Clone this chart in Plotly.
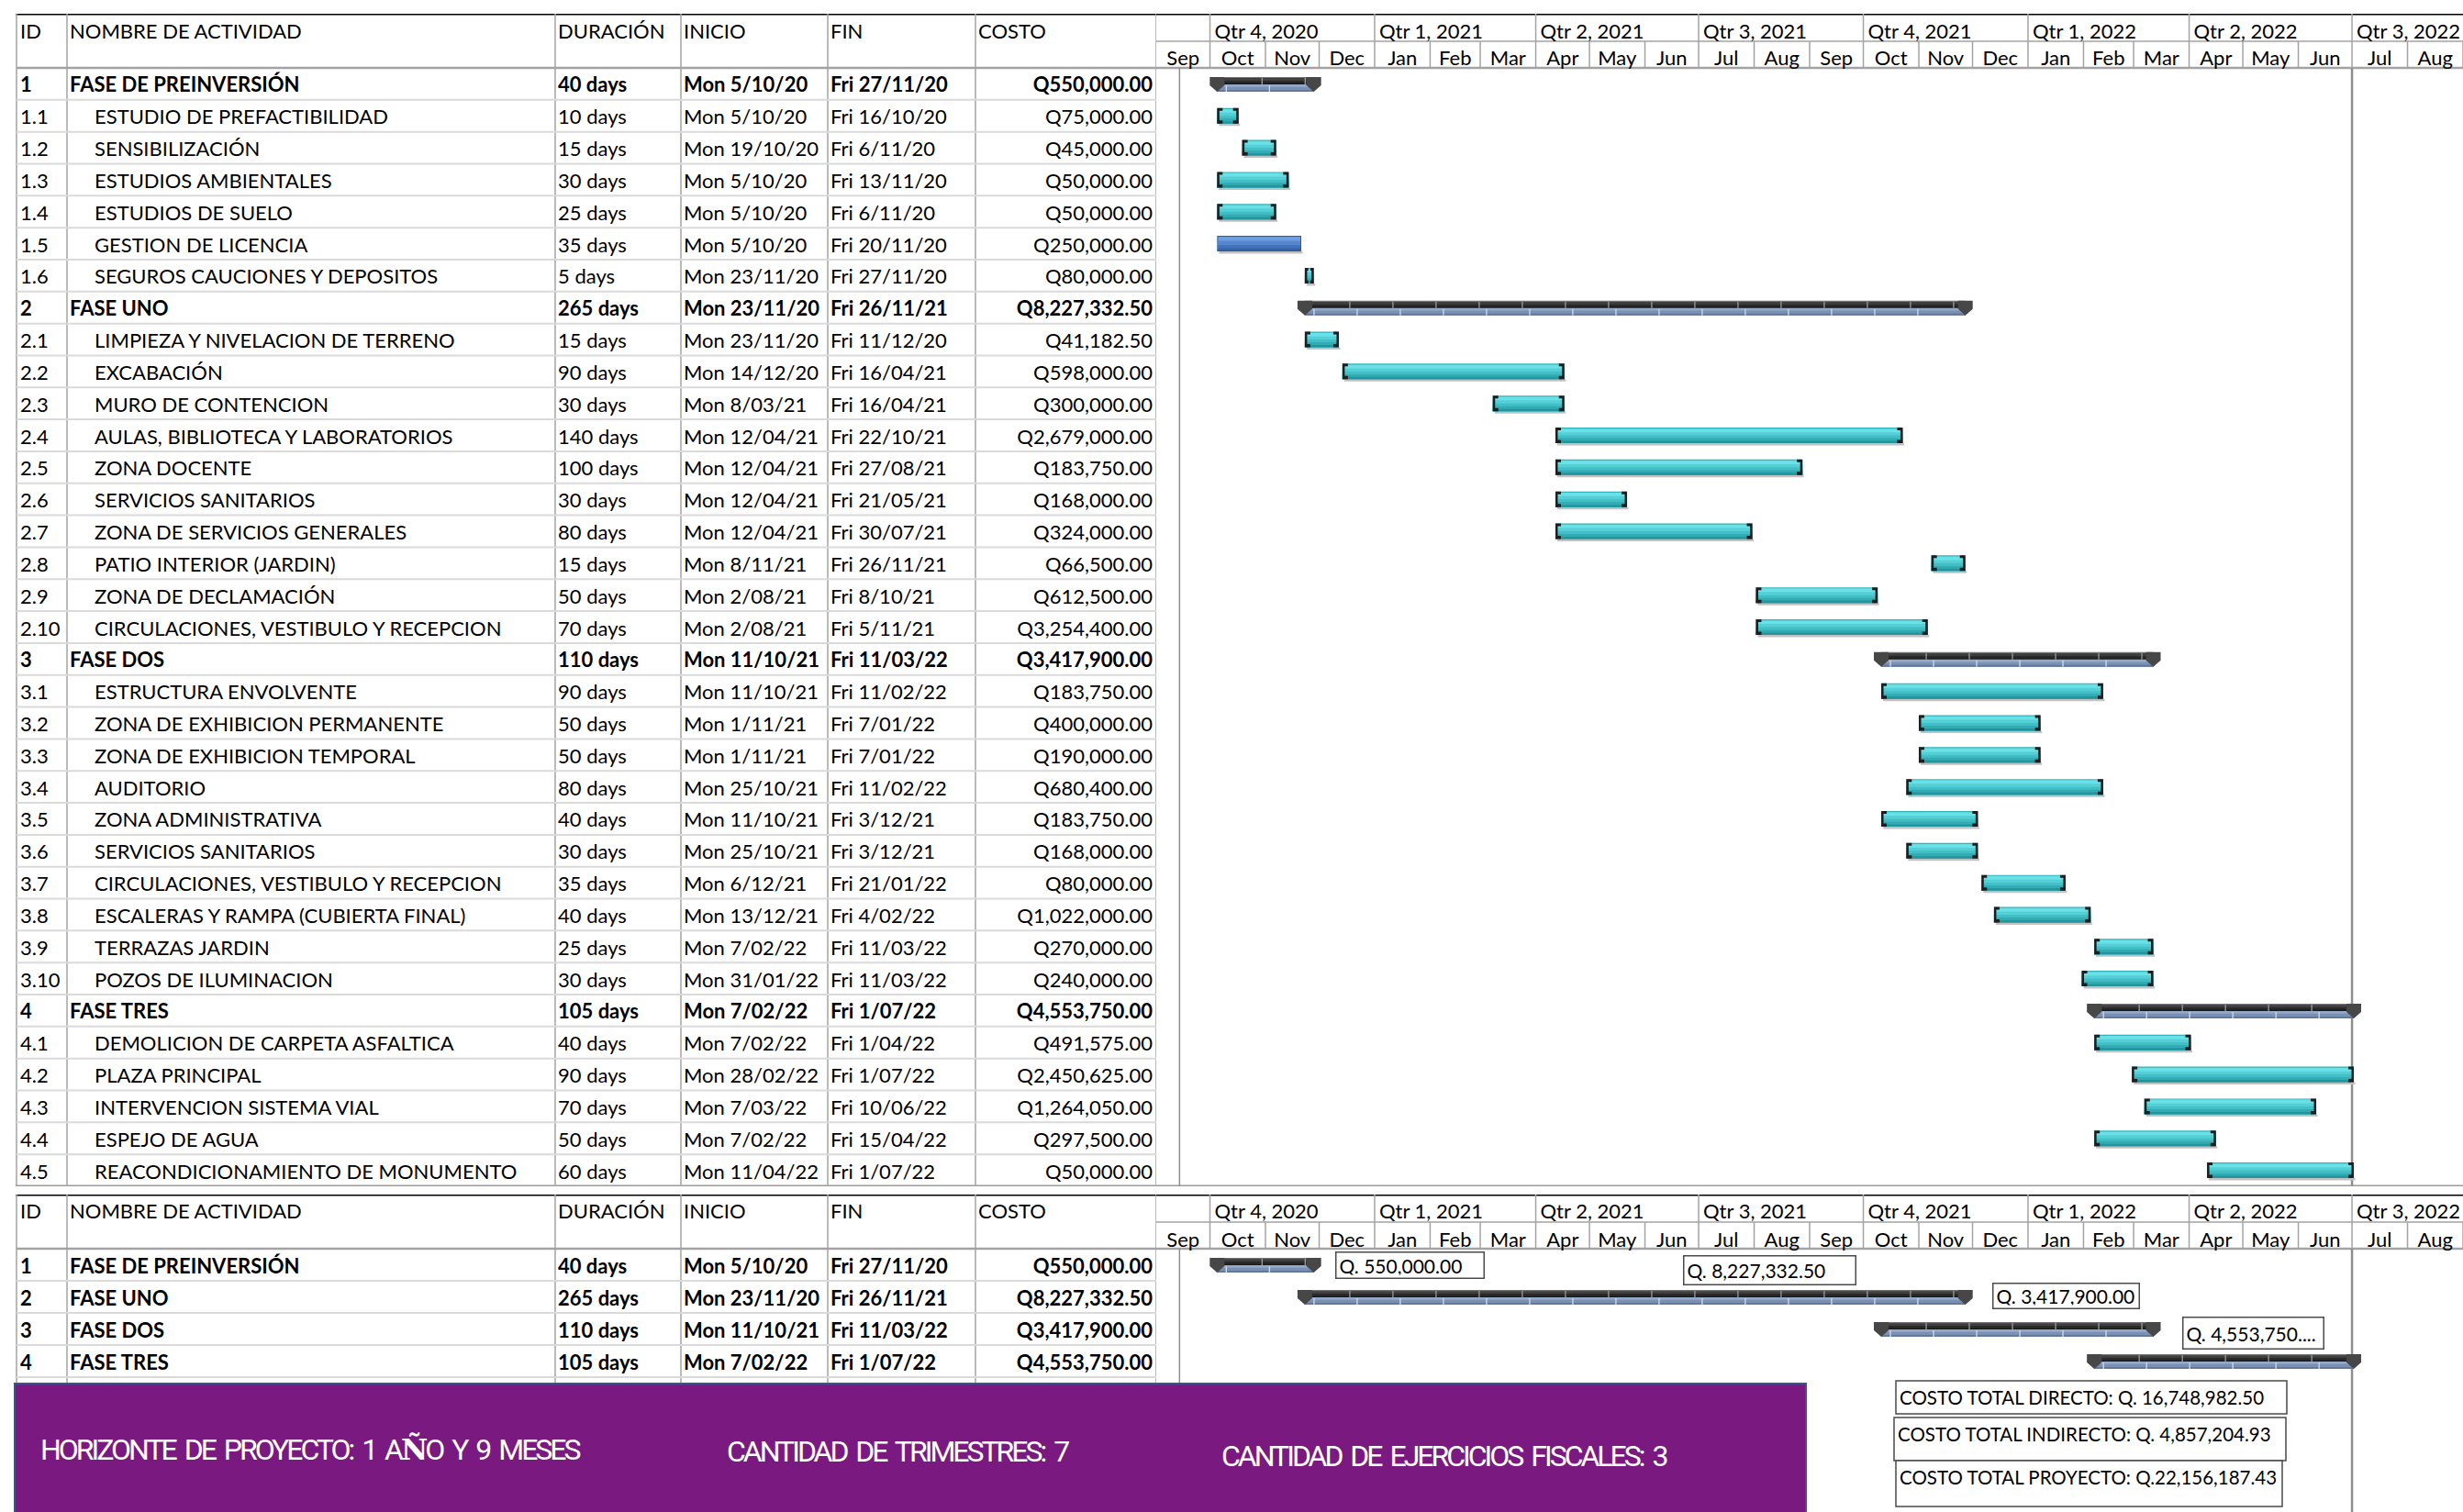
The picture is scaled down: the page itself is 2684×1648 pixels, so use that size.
import plotly.graph_objects as go
from datetime import datetime, timedelta

W, H = 2684, 1648

# ---------------------------------------------------------------- data
TASK_ID = ["1", "1.1", "1.2", "1.3", "1.4", "1.5", "1.6",
           "2", "2.1", "2.2", "2.3", "2.4", "2.5", "2.6", "2.7", "2.8", "2.9", "2.10",
           "3", "3.1", "3.2", "3.3", "3.4", "3.5", "3.6", "3.7", "3.8", "3.9", "3.10",
           "4", "4.1", "4.2", "4.3", "4.4", "4.5"]
TASK_NAME = ["FASE DE PREINVERSIÓN", "ESTUDIO DE PREFACTIBILIDAD", "SENSIBILIZACIÓN",
             "ESTUDIOS AMBIENTALES", "ESTUDIOS DE SUELO", "GESTION DE LICENCIA",
             "SEGUROS CAUCIONES Y DEPOSITOS",
             "FASE UNO", "LIMPIEZA Y NIVELACION DE TERRENO", "EXCABACIÓN", "MURO DE CONTENCION",
             "AULAS, BIBLIOTECA Y LABORATORIOS", "ZONA DOCENTE", "SERVICIOS SANITARIOS",
             "ZONA DE SERVICIOS GENERALES", "PATIO INTERIOR (JARDIN)", "ZONA DE DECLAMACIÓN",
             "CIRCULACIONES, VESTIBULO Y RECEPCION",
             "FASE DOS", "ESTRUCTURA ENVOLVENTE", "ZONA DE EXHIBICION PERMANENTE",
             "ZONA DE EXHIBICION TEMPORAL", "AUDITORIO", "ZONA ADMINISTRATIVA",
             "SERVICIOS SANITARIOS", "CIRCULACIONES, VESTIBULO Y RECEPCION",
             "ESCALERAS Y RAMPA (CUBIERTA FINAL)", "TERRAZAS JARDIN", "POZOS DE ILUMINACION",
             "FASE TRES", "DEMOLICION DE CARPETA ASFALTICA", "PLAZA PRINCIPAL",
             "INTERVENCION SISTEMA VIAL", "ESPEJO DE AGUA", "REACONDICIONAMIENTO DE MONUMENTO"]
DURATION_DAYS = [40, 10, 15, 30, 25, 35, 5,
                 265, 15, 90, 30, 140, 100, 30, 80, 15, 50, 70,
                 110, 90, 50, 50, 80, 40, 30, 35, 40, 25, 30,
                 105, 40, 90, 70, 50, 60]
START = ["Mon 5/10/20", "Mon 5/10/20", "Mon 19/10/20", "Mon 5/10/20", "Mon 5/10/20",
         "Mon 5/10/20", "Mon 23/11/20",
         "Mon 23/11/20", "Mon 23/11/20", "Mon 14/12/20", "Mon 8/03/21", "Mon 12/04/21",
         "Mon 12/04/21", "Mon 12/04/21", "Mon 12/04/21", "Mon 8/11/21", "Mon 2/08/21",
         "Mon 2/08/21",
         "Mon 11/10/21", "Mon 11/10/21", "Mon 1/11/21", "Mon 1/11/21", "Mon 25/10/21",
         "Mon 11/10/21", "Mon 25/10/21", "Mon 6/12/21", "Mon 13/12/21", "Mon 7/02/22",
         "Mon 31/01/22",
         "Mon 7/02/22", "Mon 7/02/22", "Mon 28/02/22", "Mon 7/03/22", "Mon 7/02/22",
         "Mon 11/04/22"]
FINISH = ["Fri 27/11/20", "Fri 16/10/20", "Fri 6/11/20", "Fri 13/11/20", "Fri 6/11/20",
          "Fri 20/11/20", "Fri 27/11/20",
          "Fri 26/11/21", "Fri 11/12/20", "Fri 16/04/21", "Fri 16/04/21", "Fri 22/10/21",
          "Fri 27/08/21", "Fri 21/05/21", "Fri 30/07/21", "Fri 26/11/21", "Fri 8/10/21",
          "Fri 5/11/21",
          "Fri 11/03/22", "Fri 11/02/22", "Fri 7/01/22", "Fri 7/01/22", "Fri 11/02/22",
          "Fri 3/12/21", "Fri 3/12/21", "Fri 21/01/22", "Fri 4/02/22", "Fri 11/03/22",
          "Fri 11/03/22",
          "Fri 1/07/22", "Fri 1/04/22", "Fri 1/07/22", "Fri 10/06/22", "Fri 15/04/22",
          "Fri 1/07/22"]
COST = [550000.00, 75000.00, 45000.00, 50000.00, 50000.00, 250000.00, 80000.00,
        8227332.50, 41182.50, 598000.00, 300000.00, 2679000.00, 183750.00, 168000.00,
        324000.00, 66500.00, 612500.00, 3254400.00,
        3417900.00, 183750.00, 400000.00, 190000.00, 680400.00, 183750.00, 168000.00,
        80000.00, 1022000.00, 270000.00, 240000.00,
        4553750.00, 491575.00, 2450625.00, 1264050.00, 297500.00, 50000.00]
HIGHLIGHT_IDS = ["1.5"]          # task drawn with the blue bar style

HEADERS = ["ID", "NOMBRE DE ACTIVIDAD", "DURACIÓN", "INICIO", "FIN", "COSTO"]
QUARTER_LABELS = ["Qtr 4, 2020", "Qtr 1, 2021", "Qtr 2, 2021", "Qtr 3, 2021",
                  "Qtr 4, 2021", "Qtr 1, 2022", "Qtr 2, 2022", "Qtr 3, 2022"]
QUARTER_STARTS = ["2020-10-01", "2021-01-01", "2021-04-01", "2021-07-01",
                  "2021-10-01", "2022-01-01", "2022-04-01", "2022-07-01"]
MONTH_LABELS = ["Sep", "Oct", "Nov", "Dec", "Jan", "Feb", "Mar", "Apr", "May", "Jun",
                "Jul", "Aug", "Sep", "Oct", "Nov", "Dec", "Jan", "Feb", "Mar", "Apr",
                "May", "Jun", "Jul", "Aug"]
TIMELINE = ("2020-09-01", "2022-09-01")
MARKER_DATES = ["2020-09-14", "2022-07-01"]

PHASE_TAGS = ["Q. 550,000.00", "Q. 8,227,332.50", "Q. 3,417,900.00", "Q. 4,553,750...."]
PHASE_TAG_AT = [("2020-12-10", 0.0, 154, 21), ("2021-06-22", 0.17, 180, 24),
                ("2021-12-12", 0.97, 152, 20), ("2022-03-28", 2.13, 146, 27)]
TOTALS = ["COSTO TOTAL DIRECTO: Q. 16,748,982.50",
          "COSTO TOTAL INDIRECTO: Q. 4,857,204.93",
          "COSTO TOTAL PROYECTO: Q.22,156,187.43"]
NOTES = [["HORIZONTE DE PROYECTO: 1 A", ("Ñ", "font-family:'DejaVu Serif';font-weight:bold"),
          "O Y 9 MESES"],
         ["CANTIDAD DE TRIMESTRES: 7"],
         ["CANTIDAD DE EJERCICIOS FISCALES: 3"]]

# ---------------------------------------------------------------- layout constants
FONT = "Lato, 'Open Sans', Arial, sans-serif"
NOTE_FONT = "Roboto, sans-serif"
NOTE_TRACKING = "letter-spacing:-3px;word-spacing:5px"
FS = 22
TEXT_DY = 3.5            # px nudge so row text sits on the row centre
GRID = "#a3a3a3"
ROWLINE = "#dadada"
COL_EDGES = [18, 73, 605, 742, 902, 1063, 1260]
GANTT_X0 = COL_EDGES[-1]
TX = dict(id=22, phase=76, task=103, dur=608, start=745, finish=905, cost=1256)
HEAD_X = [22, 76, 608, 745, 905, 1066]

T0 = datetime.strptime(TIMELINE[0], "%Y-%m-%d")
T1 = datetime.strptime(TIMELINE[1], "%Y-%m-%d")
DAYS_PER_PX = (T1 - T0).days / (W - GANTT_X0)


def off(px):
    return timedelta(days=px * DAYS_PER_PX)


def parse(s):
    return datetime.strptime(s.split()[1], "%d/%m/%y")


def month_start(i):
    m = 8 + i
    return datetime(2020 + m // 12, m % 12 + 1, 1)


MONTH_STARTS = [month_start(i) for i in range(len(MONTH_LABELS) + 1)]

tables = [
    dict(y="y", top=15, split=45, head=74, R=(1293 - 74) / 35, bottom=1293,
         lab=36, mlab=65),
    dict(y="y2", top=1302, split=1332, head=1361, R=35.0, bottom=H,
         lab=1322.5, mlab=1353),
]


def to_row(t, px):
    return -0.5 + (px - t["head"]) / t["R"]


is_summary = ["." not in i for i in TASK_ID]
starts = [parse(s) for s in START]
ends = [parse(s) + timedelta(days=1) for s in FINISH]
rows1 = list(range(len(TASK_ID)))
phase_idx = [i for i, s in enumerate(is_summary) if s]

fig = go.Figure()
shapes = []
annotations = []


def seg(xref, yref, x0, y0, x1, y1, color, width, layer="below"):
    shapes.append(dict(type="line", xref=xref, yref=yref, x0=x0, y0=y0, x1=x1, y1=y1,
                       line=dict(color=color, width=width), layer=layer))


def text_trace(x, y, text, xa, ya, pos, size=FS, family=FONT, color="#000"):
    fig.add_trace(go.Scatter(x=x, y=y, text=text, mode="text", textposition=pos,
                             textfont=dict(family=family, size=size, color=color),
                             xaxis=xa, yaxis=ya, hoverinfo="skip", showlegend=False,
                             cliponaxis=False))


# ---------------------------------------------------------------- bar geometry
layers = {}


def poly(ya, color, xs, ys):
    key = (ya, color)
    if key not in layers:
        layers[key] = ([], [])
    lx, ly = layers[key]
    lx.extend(list(xs) + [xs[0], None])
    ly.extend(list(ys) + [ys[0], None])


def rect(ya, color, x0, x1, y0, y1):
    poly(ya, color, [x0, x1, x1, x0], [y0, y0, y1, y1])


def grad(ya, x0, x1, y0, y1, stops):
    for f, col in stops:
        rect(ya, col, x0, x1, y0 + (y1 - y0) * f, y1)


TEAL = [(0.0, "#2fb2ba"), (0.07, "#6ae0e7"), (0.3, "#55cfd6"), (0.5, "#42bec6"),
        (0.68, "#32abb3"), (0.85, "#24959d")]
BLUE = [(0.0, "#6e9de0"), (0.3, "#5587cf"), (0.6, "#4272bb"), (0.85, "#3460a6")]
BLACK = [(0.0, "#727272"), (0.15, "#404040"), (0.5, "#2a2a2a"), (0.8, "#1b1b1b")]
SLATE = [(0.0, "#94a9c7"), (0.35, "#7a91b3"), (0.75, "#61799c")]
CAP = "#474747"
BRACKET = "#1e1e1e"
SHADOW = "#c2c2c2"
ticks = {}


def tick(ya, color, d, y0, y1):
    key = (ya, color)
    ticks.setdefault(key, ([], []))
    ticks[key][0].extend([d, d, None])
    ticks[key][1].extend([y0, y1, None])


def task_bar(ya, R, s, e, c, blue):
    top, bot = c - 8.5 / R, c + 8.5 / R
    rect(ya, SHADOW, s + off(2), e + off(1.5), bot, bot + 2.5 / R)
    if blue:
        rect(ya, "#2f5a9e", s, e, top, bot)
        grad(ya, s + off(1), e - off(1), top + 1 / R, bot - 1 / R, BLUE)
        return
    grad(ya, s, e, top, bot, TEAL)
    for a, sg in ((s, 1), (e, -1)):
        rect(ya, BRACKET, a, a + sg * off(2.5), top, bot)
        rect(ya, BRACKET, a, a + sg * off(6), top, top + 3 / R)
        rect(ya, BRACKET, a, a + sg * off(6), bot - 3.5 / R, bot)


def summary_bar(ya, R, s, e, c):
    top, mid, bot = c - 7.5 / R, c + 0.5 / R, c + 8.5 / R
    grad(ya, s, e, top, mid, BLACK)
    grad(ya, s, e, mid, bot, SLATE)
    k = 49
    while s + off(k) < e - off(9):
        tick(ya, "#9c9c9c", s + off(k), top + 1 / R, mid)
        k += 47
    k = 10
    while s + off(k) < e - off(9):
        tick(ya, "#d3dbe7", s + off(k), mid + 1 / R, bot)
        k += 47
    cw = off(8)
    for d in (s, e):
        poly(ya, CAP, [d - cw, d + cw, d + cw, d, d - cw],
             [top, top, mid + 1 / R, bot, mid + 1 / R])


# ---------------------------------------------------------------- grids & headers
for ti, t in enumerate(tables):
    ya = t["y"]
    top, split, bottom = to_row(t, t["top"]), to_row(t, t["split"]), to_row(t, t["bottom"])
    nrows = len(TASK_ID) if ti == 0 else len(phase_idx)
    table_end = nrows - 0.5 if ti == 0 else bottom
    # column separators
    for cx in COL_EDGES:
        seg("x", ya, cx, top, cx, table_end, GRID, 1.5)
    # row separators
    for r in range(nrows - (1 if ti == 0 else 0)):
        seg("x", ya, COL_EDGES[0], r + 0.5, GANTT_X0, r + 0.5, ROWLINE, 2)
    # timescale tiers
    seg("x2", ya, TIMELINE[0], split, TIMELINE[1], split, GRID, 1.5)
    for q in QUARTER_STARTS:
        seg("x2", ya, q, top, q, split, GRID, 1.5)
    for m in MONTH_STARTS[1:]:
        seg("x2", ya, m, split, m, -0.5, GRID, 1.5)
    for d, w in zip(MARKER_DATES, (1.5, 2.5)):
        seg("x2", ya, d, -0.5, d, table_end if ti == 0 else bottom, "#8e8e8e", w)
    # borders
    seg("paper", ya, 17 / W, top, 1, top, "#000", 3)
    seg("paper", ya, 18 / W, -0.5, 1, -0.5, GRID, 2.5)
    if ti == 0:
        seg("paper", ya, 17 / W, nrows - 0.5, 1, nrows - 0.5, "#9a9a9a", 3)

    lab, mlab = to_row(t, t["lab"]), to_row(t, t["mlab"])
    text_trace(HEAD_X, [lab] * len(HEADERS), HEADERS, "x", ya, "middle right")
    text_trace([datetime.strptime(q, "%Y-%m-%d") + off(5) for q in QUARTER_STARTS],
               [lab] * len(QUARTER_LABELS), QUARTER_LABELS, "x2", ya, "middle right")
    mids = [MONTH_STARTS[i] + (MONTH_STARTS[i + 1] - MONTH_STARTS[i]) / 2
            for i in range(len(MONTH_LABELS))]
    text_trace(mids, [mlab] * len(MONTH_LABELS), MONTH_LABELS, "x2", ya, "middle center")


# ---------------------------------------------------------------- table text
def table_text(ya, R, idx, rows):
    ys = [r + TEXT_DY / R for r in rows]

    def fmt(i, s):
        return f"<b>{s}</b>" if is_summary[i] else s
    text_trace([TX["id"]] * len(idx), ys, [fmt(i, TASK_ID[i]) for i in idx], "x", ya,
               "middle right")
    text_trace([TX["phase"] if is_summary[i] else TX["task"] for i in idx], ys,
               [fmt(i, TASK_NAME[i]) for i in idx], "x", ya, "middle right")
    text_trace([TX["dur"]] * len(idx), ys,
               [fmt(i, f"{DURATION_DAYS[i]} days") for i in idx], "x", ya, "middle right")
    text_trace([TX["start"]] * len(idx), ys, [fmt(i, START[i]) for i in idx], "x", ya,
               "middle right")
    text_trace([TX["finish"]] * len(idx), ys, [fmt(i, FINISH[i]) for i in idx], "x", ya,
               "middle right")
    text_trace([TX["cost"]] * len(idx), ys, [fmt(i, f"Q{COST[i]:,.2f}") for i in idx],
               "x", ya, "middle left")


t1, t2 = tables
table_text("y", t1["R"], rows1, rows1)
table_text("y2", t2["R"], phase_idx, list(range(len(phase_idx))))

# ---------------------------------------------------------------- bars
for i in rows1:
    if is_summary[i]:
        summary_bar("y", t1["R"], starts[i], ends[i], i)
    else:
        task_bar("y", t1["R"], starts[i], ends[i], i, TASK_ID[i] in HIGHLIGHT_IDS)
for r, i in enumerate(phase_idx):
    summary_bar("y2", t2["R"], starts[i], ends[i], r)

for (ya, color), (xs, ys) in layers.items():
    fig.add_trace(go.Scatter(x=xs, y=ys, mode="lines", fill="toself", fillcolor=color,
                             line=dict(width=0, color=color), xaxis="x2", yaxis=ya,
                             hoverinfo="skip", showlegend=False))
for (ya, color), (xs, ys) in ticks.items():
    fig.add_trace(go.Scatter(x=xs, y=ys, mode="lines", line=dict(width=1.3, color=color),
                             xaxis="x2", yaxis=ya, hoverinfo="skip", showlegend=False))

# ---------------------------------------------------------------- phase cost tags
for txt, (d, r, w, h) in zip(PHASE_TAGS, PHASE_TAG_AT):
    annotations.append(dict(x=d, y=r, xref="x2", yref="y2", xanchor="left",
                            yanchor="middle", text=txt, showarrow=False, align="left",
                            width=w, height=h, bgcolor="white", bordercolor="#4a4a4a",
                            borderwidth=1.5, borderpad=3,
                            font=dict(family=FONT, size=21, color="#000")))


def px(x):
    return x / W


def py(y):
    return 1 - y / H


def tracked(parts):
    out = []
    for p in parts:
        if isinstance(p, tuple):
            out.append(f'<span style="{p[1]};{NOTE_TRACKING}">{p[0]}</span>')
        else:
            out.append(f'<span style="{NOTE_TRACKING}">{p}</span>')
    return "".join(out)


# ---------------------------------------------------------------- summary panel
shapes.append(dict(type="rect", xref="paper", yref="paper", x0=px(16), x1=px(1968),
                   y0=py(1508), y1=py(H + 4), fillcolor="#7a1a80",
                   line=dict(color="#41508f", width=2), layer="above"))
for parts, cx, cy in zip(NOTES, (338, 978, 1573), (1580, 1582, 1587)):
    annotations.append(dict(x=px(cx), y=py(cy), xref="paper", yref="paper",
                            xanchor="center", yanchor="middle", text=tracked(parts),
                            showarrow=False,
                            font=dict(family=NOTE_FONT, size=32, color="white")))

# ---------------------------------------------------------------- total cost boxes
for txt, (x0, y0, x1, y1), ty in zip(
        TOTALS,
        [(2066, 1505, 2492, 1541), (2064, 1545, 2491, 1592), (2066, 1592, 2487, 1642)],
        (1523, 1563, 1610)):
    shapes.append(dict(type="rect", xref="paper", yref="paper", x0=px(x0), x1=px(x1),
                       y0=py(y1), y1=py(y0), fillcolor="white",
                       line=dict(color="#4a4a4a", width=1.5), layer="above"))
    annotations.append(dict(x=px(x0 + 2), y=py(ty), xref="paper", yref="paper",
                            xanchor="left", yanchor="middle", text=txt, showarrow=False,
                            font=dict(family=FONT, size=20.5, color="#000")))

# ---------------------------------------------------------------- axes
ax_common = dict(visible=False, fixedrange=True, showgrid=False, zeroline=False)
fig.update_layout(
    width=W, height=H, margin=dict(l=0, r=0, t=0, b=0),
    paper_bgcolor="white", plot_bgcolor="rgba(0,0,0,0)", showlegend=False,
    xaxis=dict(domain=[0, GANTT_X0 / W], range=[0, GANTT_X0], anchor="y", **ax_common),
    xaxis2=dict(domain=[GANTT_X0 / W, 1], range=list(TIMELINE), type="date", anchor="y",
                **ax_common),
    yaxis=dict(domain=[1 - t1["bottom"] / H, 1 - t1["top"] / H],
               range=[to_row(t1, t1["bottom"]), to_row(t1, t1["top"])], anchor="x",
               **ax_common),
    yaxis2=dict(domain=[0, 1 - t2["top"] / H],
                range=[to_row(t2, t2["bottom"]), to_row(t2, t2["top"])], anchor="x",
                **ax_common),
    shapes=shapes, annotations=annotations,
)

fig.write_html("out.html")
